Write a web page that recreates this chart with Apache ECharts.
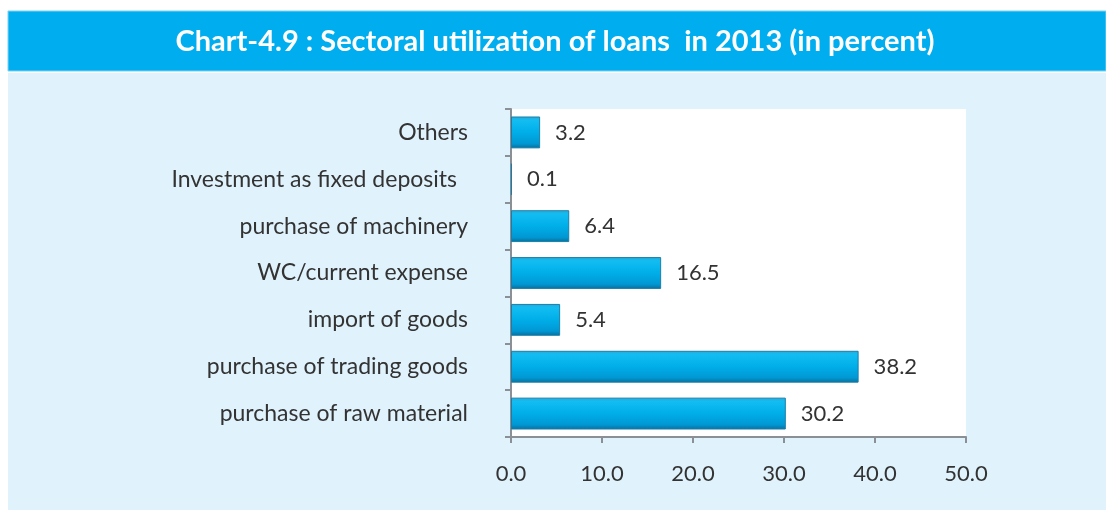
<!DOCTYPE html>
<html>
<head>
<meta charset="utf-8">
<script src="https://cdn.jsdelivr.net/npm/echarts@6/dist/echarts.min.js"></script>
<style>
html,body{margin:0;padding:0;background:#ffffff;}
#c{width:1106px;height:510px;}
</style>
</head>
<body>
<div id="c"></div>
<script>
const titleText = 'Chart-4.9 : Sectoral utilization of loans  in 2013 (in percent)';
const categories = ['purchase of raw material','purchase of trading goods','import of goods','WC/current expense','purchase of machinery','Investment as fixed deposits','Others'];
const values = [30.2, 38.2, 5.4, 16.5, 6.4, 0.1, 3.2];
const xTicks = [0, 10, 20, 30, 40, 50];

const chart = echarts.init(document.getElementById('c'));
chart.setOption({
  animation: false,
  graphic: [
    {type:'rect', z:-10, shape:{x:8,y:11,width:1098,height:60}, style:{fill:'#00aeef', stroke:'#7fd3f5', lineWidth:1}},
    {type:'rect', z:-10, shape:{x:8,y:73,width:1098,height:437}, style:{fill:'#e0f2fc'}},
    {type:'text', z:10, x:555, y:42, style:{text:titleText, fill:'#ffffff', font:'bold 29px Lato', align:'center', verticalAlign:'middle'}}
  ],
  grid: {left:511, right:140, top:109, bottom:73, show:true, backgroundColor:'#ffffff', borderWidth:0},
  xAxis: {
    type:'value', min:xTicks[0], max:xTicks[xTicks.length-1], interval:10,
    axisLine:{show:true, lineStyle:{color:'#8a9096', width:2}},
    axisTick:{show:true, length:6, lineStyle:{color:'#8a9096', width:2}},
    splitLine:{show:false},
    axisLabel:{formatter:v=>v.toFixed(1), color:'#333333', fontSize:22, fontFamily:'Lato', margin:26}
  },
  yAxis: {
    type:'category', data:categories,
    axisLine:{show:true, lineStyle:{color:'#8a9096', width:2}},
    axisTick:{show:true, length:6, lineStyle:{color:'#8a9096', width:2}},
    axisLabel:{
      color:'#333333', fontSize:23, fontFamily:'Lato', margin:43,
      formatter:v=> v.indexOf('Investment')===0 ? '{p|'+v+'}' : v,
      rich:{p:{color:'#333333', fontSize:23, fontFamily:'Lato', padding:[0,11,0,0]}}
    }
  },
  series: [{
    type:'bar', data:values, barWidth:'68%',
    itemStyle:{
      color:new echarts.graphic.LinearGradient(0,0,0,1,[
        {offset:0, color:'#2aa8d8'},
        {offset:0.12, color:'#12bdf2'},
        {offset:0.5, color:'#00aee8'},
        {offset:0.85, color:'#0098d4'},
        {offset:1, color:'#0a6d98'}
      ]),
      borderColor:'#1a7fa8', borderWidth:1
    },
    label:{show:true, position:'right', distance:15, formatter:p=>p.value.toFixed(1), color:'#333333', fontSize:22, fontFamily:'Lato'}
  }]
});
</script>
</body>
</html>
